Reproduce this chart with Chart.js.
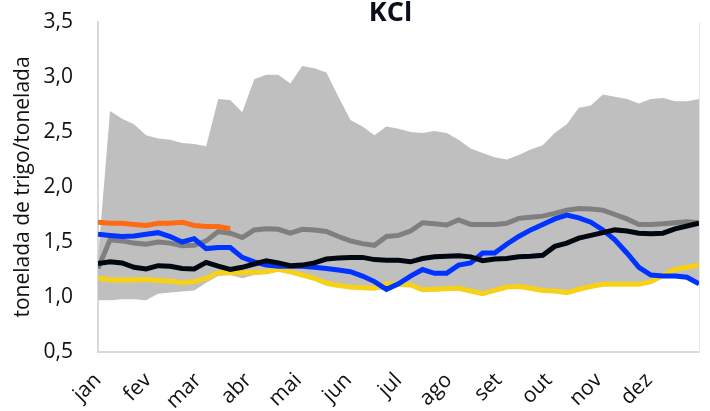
<!DOCTYPE html>
<html>
<head>
<meta charset="utf-8">
<script src="https://cdn.jsdelivr.net/npm/chart.js@4.4.1/dist/chart.umd.min.js"></script>
<style>
  body { margin: 0; background: #fff; }
  #wrap { width: 710px; height: 411px; }
</style>
</head>
<body>
<div id="wrap"><canvas id="kcl-chart" width="710" height="411"></canvas></div>
<script>
// meses (eixo x), dados semanais 0..50
const meses = ['jan', 'fev', 'mar', 'abr', 'mai', 'jun', 'jul', 'ago', 'set', 'out', 'nov', 'dez'];
const yTicks = [0.5, 1.0, 1.5, 2.0, 2.5, 3.0, 3.5];

// faixa cinza (mínimo e máximo)
const faixaMax = [1.35, 2.69, 2.62, 2.57, 2.47, 2.44, 2.43, 2.40, 2.39, 2.37, 2.80, 2.79, 2.68, 2.98, 3.02, 3.02, 2.94,
    3.10, 3.08, 3.04, 2.82, 2.61, 2.55, 2.47, 2.55, 2.53, 2.50, 2.49, 2.51, 2.49, 2.43, 2.35, 2.31, 2.27,
    2.25, 2.29, 2.34, 2.38, 2.49, 2.57, 2.72, 2.74, 2.84, 2.82, 2.80, 2.76, 2.80, 2.81, 2.78, 2.78, 2.80];
const faixaMin = [0.97, 0.97, 0.98, 0.98, 0.97, 1.03, 1.04, 1.05, 1.06, 1.13, 1.19, 1.20, 1.17, 1.20, 1.21, 1.23, 1.21,
    1.18, 1.15, 1.11, 1.09, 1.07, 1.07, 1.07, 1.06, 1.10, 1.09, 1.05, 1.05, 1.06, 1.06, 1.04, 1.02, 1.04,
    1.07, 1.08, 1.06, 1.04, 1.04, 1.03, 1.05, 1.08, 1.10, 1.10, 1.10, 1.10, 1.12, 1.17, 1.17, 1.17, 1.11];

const serieCinza = [1.26, 1.52, 1.51, 1.49, 1.48, 1.50, 1.49, 1.465, 1.47, 1.51, 1.595, 1.58, 1.54, 1.61, 1.62, 1.615, 1.58,
    1.615, 1.61, 1.595, 1.55, 1.51, 1.485, 1.47, 1.55, 1.56, 1.60, 1.675, 1.665, 1.655, 1.70, 1.66, 1.66, 1.66,
    1.67, 1.715, 1.725, 1.735, 1.76, 1.79, 1.805, 1.80, 1.79, 1.75, 1.71, 1.66, 1.66, 1.665, 1.675, 1.685, 1.675];
const serieAmarela = [1.17, 1.155, 1.155, 1.155, 1.16, 1.15, 1.145, 1.13, 1.14, 1.17, 1.22, 1.22, 1.22, 1.225, 1.23, 1.255, 1.23,
    1.20, 1.17, 1.125, 1.105, 1.09, 1.085, 1.08, 1.12, 1.115, 1.11, 1.065, 1.07, 1.075, 1.08, 1.055, 1.03, 1.06,
    1.09, 1.095, 1.08, 1.06, 1.055, 1.04, 1.07, 1.095, 1.115, 1.115, 1.115, 1.115, 1.14, 1.20, 1.25, 1.27, 1.29];
const serieAzul = [1.57, 1.56, 1.55, 1.555, 1.57, 1.585, 1.55, 1.50, 1.53, 1.44, 1.45, 1.45, 1.36, 1.32, 1.29, 1.28, 1.28,
    1.28, 1.27, 1.26, 1.245, 1.23, 1.19, 1.14, 1.07, 1.12, 1.19, 1.25, 1.215, 1.215, 1.29, 1.31, 1.40, 1.40,
    1.48, 1.55, 1.61, 1.66, 1.71, 1.745, 1.72, 1.68, 1.61, 1.52, 1.40, 1.27, 1.20, 1.19, 1.19, 1.18, 1.12];
const seriePreta = [1.305, 1.32, 1.31, 1.27, 1.255, 1.285, 1.28, 1.26, 1.255, 1.315, 1.28, 1.25, 1.27, 1.30, 1.33, 1.31, 1.285,
    1.29, 1.31, 1.345, 1.355, 1.36, 1.36, 1.34, 1.335, 1.335, 1.32, 1.35, 1.365, 1.37, 1.375, 1.365, 1.33, 1.345,
    1.35, 1.365, 1.37, 1.38, 1.46, 1.49, 1.535, 1.56, 1.585, 1.61, 1.60, 1.58, 1.575, 1.58, 1.62, 1.645, 1.67];
const serieLaranja = [1.68, 1.67, 1.67, 1.66, 1.65, 1.67, 1.67, 1.68, 1.65, 1.64, 1.64, 1.62];

const semanas = faixaMax.length - 1;

function pontos(arr) {
    return arr.map(function (v, i) { return { x: i, y: v }; });
}

function linha(label, arr, cor) {
    return {
        label: label,
        data: pontos(arr),
        borderColor: cor,
        borderWidth: 5,
        pointRadius: 0,
        fill: false,
        tension: 0
    };
}

const tituloPlugin = {
    id: 'titulo',
    afterDraw: function (chart) {
        const ctx = chart.ctx;
        const area = chart.chartArea;
        ctx.save();
        ctx.font = 'bold 27px "Open Sans"';
        ctx.fillStyle = '#0b0f1a';
        ctx.textAlign = 'center';
        ctx.textBaseline = 'middle';
        ctx.fillText('KCl', (area.left + area.right) / 2 - 8, 13);
        ctx.restore();
    }
};

// Chart.js desenha o primeiro dataset por cima: linhas primeiro, faixa por último
const ctx = document.getElementById('kcl-chart').getContext('2d');
new Chart(ctx, {
    type: 'line',
    data: {
        datasets: [
            linha('laranja', serieLaranja, '#ff6a13'),
            linha('preta', seriePreta, '#020812'),
            linha('azul', serieAzul, '#0033ff'),
            linha('amarela', serieAmarela, '#f7d117'),
            linha('cinza', serieCinza, '#7f7f7f'),
            {
                label: 'máx',
                data: pontos(faixaMax),
                borderWidth: 0,
                pointRadius: 0,
                backgroundColor: '#bfbfbf',
                fill: '+1',
                tension: 0
            },
            {
                label: 'mín',
                data: pontos(faixaMin),
                borderWidth: 0,
                pointRadius: 0,
                fill: false,
                tension: 0
            }
        ]
    },
    options: {
        responsive: false,
        animation: false,
        layout: { padding: { top: 22, right: 10, left: 0, bottom: 0 } },
        plugins: {
            legend: { display: false },
            tooltip: { enabled: false }
        },
        scales: {
            x: {
                type: 'linear',
                min: 0,
                max: semanas,
                grid: { display: false, drawTicks: false },
                border: { color: '#d9d9d9', width: 2 },
                afterBuildTicks: function (scale) {
                    scale.ticks = meses.map(function (m, i) { return { value: i * semanas / 12 }; });
                },
                afterFit: function (scale) {
                    scale.height = 59;
                    scale.paddingLeft = 0;
                    scale.paddingRight = 0;
                },
                ticks: {
                    autoSkip: false,
                    maxRotation: 45,
                    minRotation: 45,
                    padding: 16,
                    color: '#111',
                    font: { family: 'Open Sans', size: 21 },
                    callback: function (v, i) { return meses[i]; }
                }
            },
            y: {
                min: 0.5,
                max: 3.5,
                grid: { display: false, drawTicks: false },
                border: { color: '#d9d9d9', width: 2 },
                afterBuildTicks: function (scale) {
                    scale.ticks = yTicks.map(function (v) { return { value: v }; });
                },
                afterFit: function (scale) {
                    scale.width = 98;
                    scale.paddingTop = 0;
                    scale.paddingBottom = 0;
                },
                ticks: {
                    padding: 25,
                    color: '#111',
                    font: { family: 'Open Sans', size: 21 },
                    callback: function (v) { return v.toFixed(1).replace('.', ','); }
                },
                title: {
                    display: true,
                    text: 'tonelada de trigo/tonelada',
                    color: '#111',
                    font: { family: 'Open Sans', size: 21 },
                    padding: { top: 10, bottom: 0 }
                }
            },
            y2: {
                position: 'right',
                min: 0.5,
                max: 3.5,
                grid: { display: false, drawTicks: false },
                border: { color: '#e6e6e6', width: 1 },
                ticks: { display: false },
                afterFit: function (scale) {
                    scale.width = 1;
                    scale.paddingTop = 0;
                    scale.paddingBottom = 0;
                }
            }
        }
    },
    plugins: [tituloPlugin]
});
</script>
</body>
</html>
